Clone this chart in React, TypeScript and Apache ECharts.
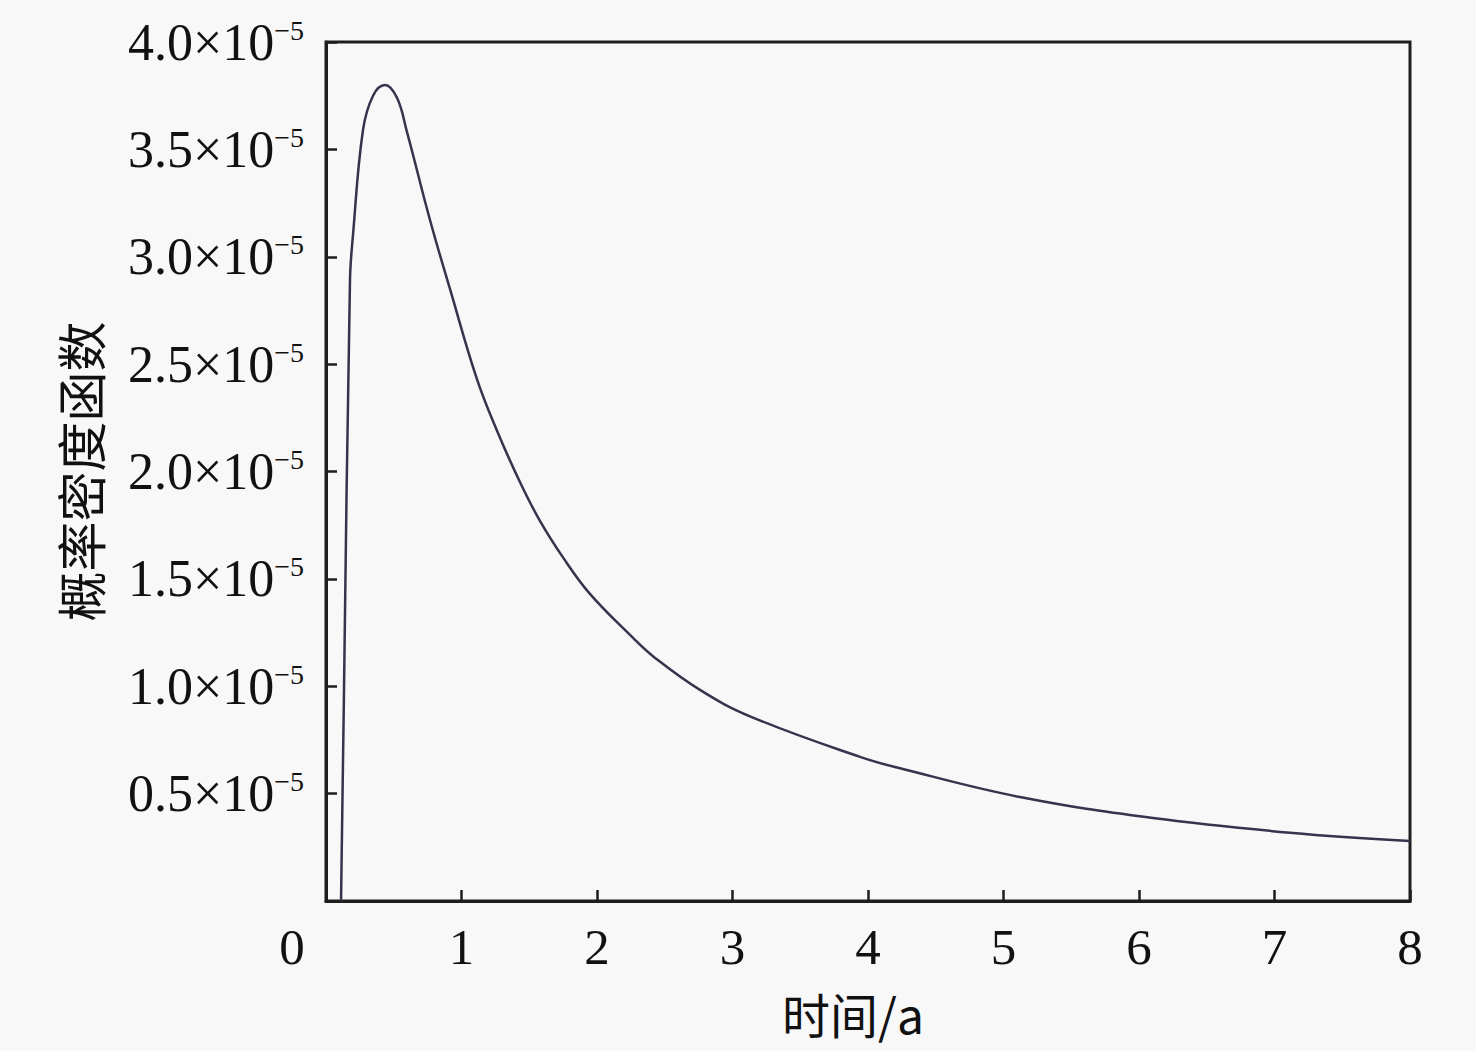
import React, { useEffect, useRef } from "react";
import * as echarts from "echarts";

// time in years (a)
const timeYears = [
  0.111, 0.132, 0.177, 0.199, 0.273, 0.347, 0.435, 0.524, 0.598, 0.768, 0.915,
  1.114, 1.262, 1.432, 1.579, 1.749, 1.948, 2.266, 2.413, 2.76, 3.129, 3.941,
  4.236, 5.122, 6.103, 7.114, 8.0,
];
// probability density, in units of 1e-5
const density = [
  0.0, 0.94, 2.89, 3.1, 3.59, 3.75, 3.8, 3.74, 3.58, 3.17, 2.85, 2.43, 2.19,
  1.95, 1.77, 1.6, 1.43, 1.225, 1.14, 0.983, 0.86, 0.671, 0.618, 0.484, 0.386,
  0.318, 0.279,
];
const xTicks = [0, 1, 2, 3, 4, 5, 6, 7, 8];
const yTicks = [0, 0.5, 1.0, 1.5, 2.0, 2.5, 3.0, 3.5, 4.0];
const xName = "时间/a";
const yName = "概率密度函数";

const serif = "'Liberation Serif', 'Times New Roman', serif";
const cjk = "'Noto Sans CJK SC', sans-serif";

export default function App() {
  const ref = useRef<HTMLDivElement>(null);
  useEffect(() => {
    if (!ref.current) return;
    const chart = echarts.init(ref.current, null, { renderer: "svg" });
    const points = timeYears.map((t, i) => [t, density[i]]);
    chart.setOption({
      animation: false,
      backgroundColor: "#f8f8f8",
      grid: {
        left: 326,
        top: 42,
        right: 66,
        bottom: 150,
        show: true,
        borderColor: "#1e1e1e",
        borderWidth: 3,
        backgroundColor: "transparent",
      },
      xAxis: {
        type: "value",
        min: xTicks[0],
        max: xTicks[xTicks.length - 1],
        interval: 1,
        name: xName,
        nameLocation: "middle",
        nameGap: 88,
        nameTextStyle: {
          fontFamily: cjk,
          fontSize: 48,
          color: "#111",
          padding: [0, 30, 0, 0],
        },
        axisLine: { show: true, lineStyle: { color: "#1e1e1e", width: 3 } },
        axisTick: {
          show: true,
          inside: true,
          length: 11,
          lineStyle: { color: "#1e1e1e", width: 2.5 },
        },
        splitLine: { show: false },
        axisLabel: {
          margin: 20,
          fontFamily: serif,
          fontSize: 51,
          color: "#111",
          formatter: (v: number) => (v === 0 ? "{z|0}" : String(v)),
          rich: {
            z: {
              fontFamily: serif,
              fontSize: 51,
              color: "#111",
              padding: [0, 68, 0, 0],
            },
          },
        },
      },
      yAxis: {
        type: "value",
        min: yTicks[0],
        max: yTicks[yTicks.length - 1],
        interval: 0.5,
        name: yName,
        nameLocation: "middle",
        nameGap: 222,
        nameRotate: 90,
        nameTextStyle: { fontFamily: cjk, fontSize: 50, color: "#111" },
        axisLine: { show: true, lineStyle: { color: "#1e1e1e", width: 3 } },
        axisTick: {
          show: true,
          inside: true,
          length: 11,
          lineStyle: { color: "#1e1e1e", width: 2.5 },
        },
        splitLine: { show: false },
        axisLabel: {
          margin: 22,
          formatter: (v: number) =>
            v === 0 ? "" : `{m|${v.toFixed(1)}×10}{s|−5}`,
          rich: {
            m: {
              fontFamily: serif,
              fontSize: 52,
              color: "#111",
              lineHeight: 52,
              verticalAlign: "bottom",
            },
            s: {
              fontFamily: serif,
              fontSize: 28,
              color: "#111",
              lineHeight: 28,
              verticalAlign: "top",
            },
          },
        },
      },
      series: [
        {
          type: "line",
          data: points,
          showSymbol: false,
          smooth: 0.4,
          clip: true,
          lineStyle: { color: "#34344c", width: 2.5 },
        },
      ],
    });
    return () => chart.dispose();
  }, []);
  return (
    <div
      ref={ref}
      style={{
        position: "fixed",
        left: 0,
        top: 0,
        width: 1476,
        height: 1051,
        background: "#f8f8f8",
      }}
    />
  );
}
